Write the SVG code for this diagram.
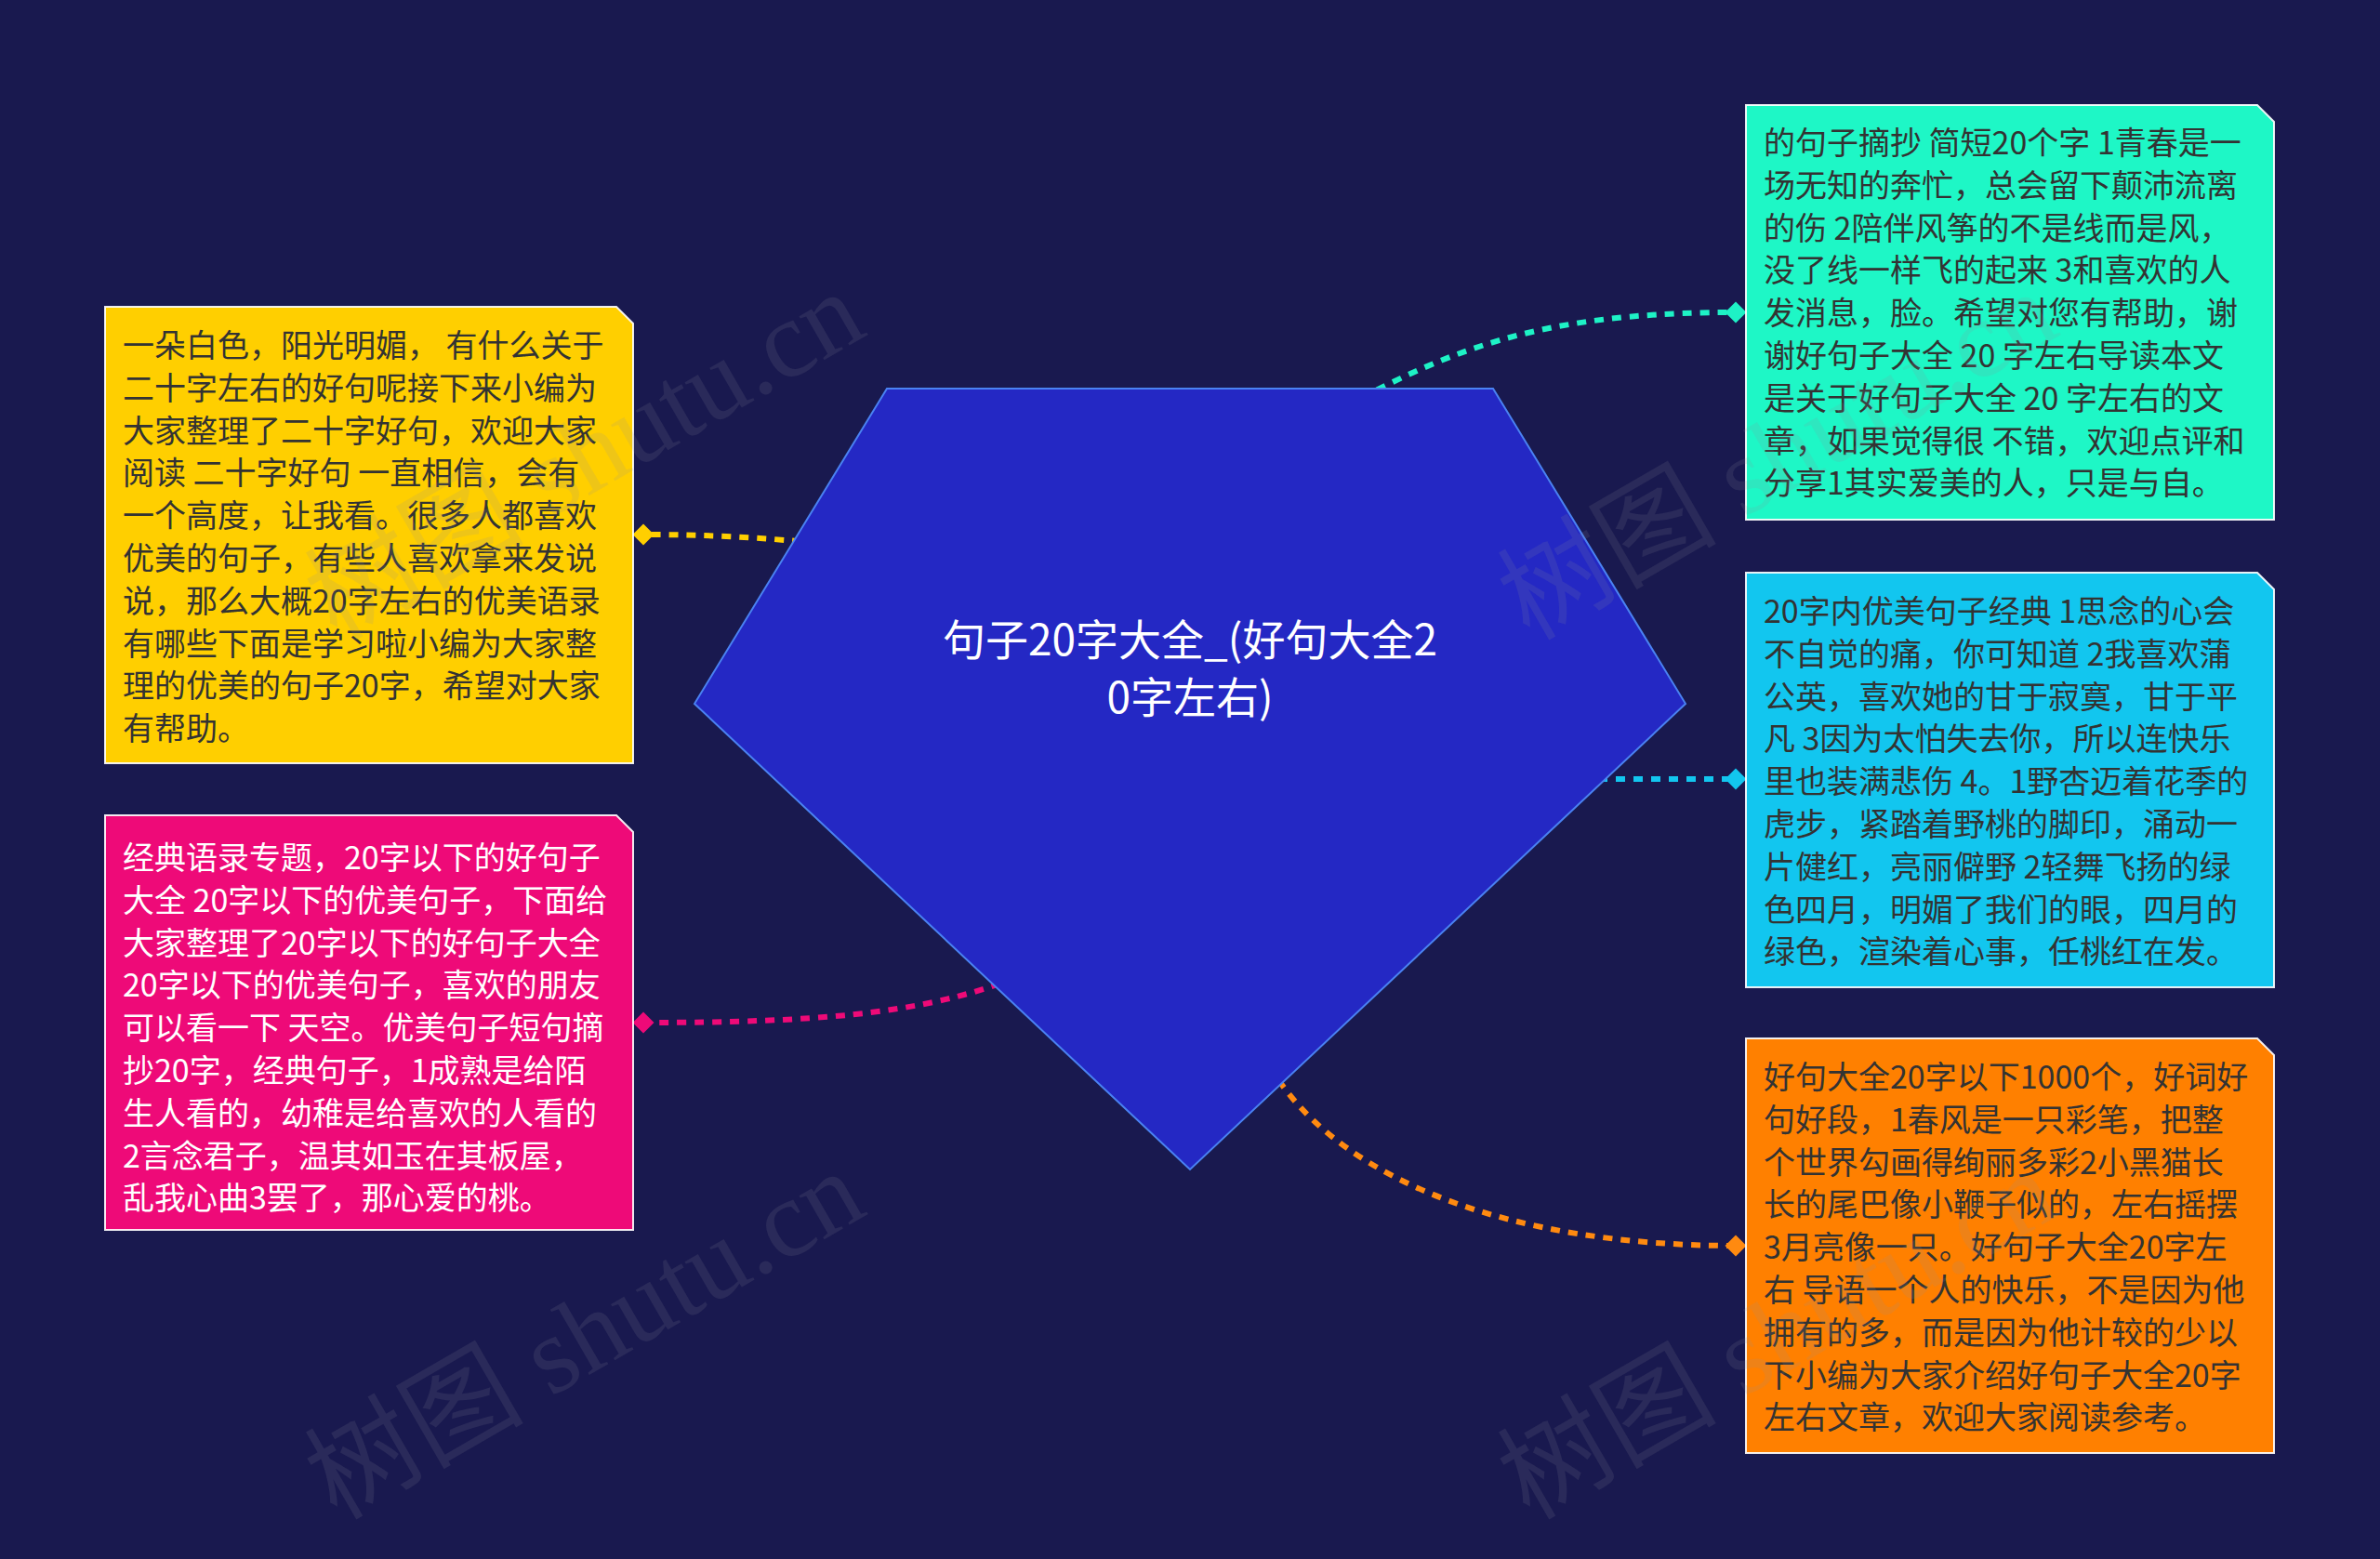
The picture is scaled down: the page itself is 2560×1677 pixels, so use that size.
<svg xmlns="http://www.w3.org/2000/svg" width="2560" height="1677" viewBox="0 0 2560 1677">
<defs>
<style>
.bg{fill:#19194f}
.box{stroke:#ffffff;stroke-width:2;stroke-opacity:0.9}
.t{font-family:"Noto Sans CJK SC","Noto Sans",sans-serif;font-size:34px}
.dark{fill:#333333}
.light{fill:#ffffff}
.conn{fill:none;stroke-width:6;stroke-dasharray:10 9}
.wm{font-family:"Liberation Serif","Noto Sans CJK SC",serif;font-size:118px;fill:#8a8a9a;fill-opacity:0.15}
</style>
</defs>
<rect class="bg" x="0" y="0" width="2560" height="1677"/>

<g id="connectors">
<path class="conn" stroke="#ffcf00" d="M 900 586 C 820 578, 760 575, 692 575"/>
<path class="conn" stroke="#ee0a78" d="M 1130 1040 L 1070 1060 C 980 1090, 880 1100, 692 1100"/>
<path class="conn" stroke="#1ef2c6" d="M 1430 445 L 1490 415 C 1600 360, 1700 336, 1868 336"/>
<path class="conn" stroke="#12c6ef" d="M 1700 838 L 1868 838"/>
<path class="conn" stroke="#ff8a10" d="M 1340 1117 L 1379 1167 C 1452 1268, 1620 1340, 1868 1340"/>
<path fill="#ffcf00" d="M 692 563.5 L 703.5 575 L 692 586.5 L 680.5 575 Z"/>
<path fill="#ee0a78" d="M 692 1088.5 L 703.5 1100 L 692 1111.5 L 680.5 1100 Z"/>
<path fill="#1ef2c6" d="M 1867 324.5 L 1878.5 336 L 1867 347.5 L 1855.5 336 Z"/>
<path fill="#12c6ef" d="M 1867 826.5 L 1878.5 838 L 1867 849.5 L 1855.5 838 Z"/>
<path fill="#ff8a10" d="M 1867 1328.5 L 1878.5 1340 L 1867 1351.5 L 1855.5 1340 Z"/>
</g>

<g id="center">
<polygon points="954,418 1606,418 1813,757 1280,1258 747,757" fill="#2428c4" stroke="#4a82f2" stroke-width="2"/>
<text font-family="'Noto Sans CJK SC','Noto Sans',sans-serif" font-size="46" fill="#ffffff" text-anchor="middle"><tspan x="1280" y="705">句子20字大全_(好句大全2</tspan><tspan x="1280" y="767">0字左右)</tspan></text>
</g>

<g id="node-yellow">
<path class="box" fill="#ffcf00" d="M 113 330 H 663 L 681 348 V 821 H 113 Z"/>
<text class="t dark">
<tspan x="132" y="384">一朵白色，阳光明媚， 有什么关于</tspan>
<tspan x="132" y="429.8">二十字左右的好句呢接下来小编为</tspan>
<tspan x="132" y="475.6">大家整理了二十字好句，欢迎大家</tspan>
<tspan x="132" y="521.4">阅读 二十字好句 一直相信，会有</tspan>
<tspan x="132" y="567.2">一个高度，让我看。很多人都喜欢</tspan>
<tspan x="132" y="613">优美的句子，有些人喜欢拿来发说</tspan>
<tspan x="132" y="658.8">说，那么大概20字左右的优美语录</tspan>
<tspan x="132" y="704.6">有哪些下面是学习啦小编为大家整</tspan>
<tspan x="132" y="750.4">理的优美的句子20字，希望对大家</tspan>
<tspan x="132" y="796.2">有帮助。</tspan>
</text>
</g>

<g id="node-pink">
<path class="box" fill="#ee0a78" d="M 113 877 H 663 L 681 895 V 1323 H 113 Z"/>
<text class="t light">
<tspan x="132" y="935">经典语录专题，20字以下的好句子</tspan>
<tspan x="132" y="980.8">大全 20字以下的优美句子，下面给</tspan>
<tspan x="132" y="1026.6">大家整理了20字以下的好句子大全</tspan>
<tspan x="132" y="1072.4">20字以下的优美句子，喜欢的朋友</tspan>
<tspan x="132" y="1118.2">可以看一下 天空。优美句子短句摘</tspan>
<tspan x="132" y="1164">抄20字，经典句子，1成熟是给陌</tspan>
<tspan x="132" y="1209.8">生人看的，幼稚是给喜欢的人看的</tspan>
<tspan x="132" y="1255.6">2言念君子，温其如玉在其板屋，</tspan>
<tspan x="132" y="1301.4">乱我心曲3罢了，那心爱的桃。</tspan>
</text>
</g>

<g id="node-teal">
<path class="box" fill="#1ef7c6" d="M 1878 113 H 2428 L 2446 131 V 559 H 1878 Z"/>
<text class="t dark">
<tspan x="1897" y="166">的句子摘抄 简短20个字 1青春是一</tspan>
<tspan x="1897" y="211.8">场无知的奔忙，总会留下颠沛流离</tspan>
<tspan x="1897" y="257.6">的伤 2陪伴风筝的不是线而是风，</tspan>
<tspan x="1897" y="303.4">没了线一样飞的起来 3和喜欢的人</tspan>
<tspan x="1897" y="349.2">发消息，脸。希望对您有帮助，谢</tspan>
<tspan x="1897" y="395">谢好句子大全 20 字左右导读本文</tspan>
<tspan x="1897" y="440.8">是关于好句子大全 20 字左右的文</tspan>
<tspan x="1897" y="486.6">章，如果觉得很 不错，欢迎点评和</tspan>
<tspan x="1897" y="532.4">分享1其实爱美的人，只是与自。</tspan>
</text>
</g>

<g id="node-cyan">
<path class="box" fill="#12c6ef" d="M 1878 616 H 2428 L 2446 634 V 1062 H 1878 Z"/>
<text class="t dark">
<tspan x="1897" y="670">20字内优美句子经典 1思念的心会</tspan>
<tspan x="1897" y="715.8">不自觉的痛，你可知道 2我喜欢蒲</tspan>
<tspan x="1897" y="761.6">公英，喜欢她的甘于寂寞，甘于平</tspan>
<tspan x="1897" y="807.4">凡 3因为太怕失去你，所以连快乐</tspan>
<tspan x="1897" y="853.2">里也装满悲伤 4。1野杏迈着花季的</tspan>
<tspan x="1897" y="899">虎步，紧踏着野桃的脚印，涌动一</tspan>
<tspan x="1897" y="944.8">片健红，亮丽僻野 2轻舞飞扬的绿</tspan>
<tspan x="1897" y="990.6">色四月，明媚了我们的眼，四月的</tspan>
<tspan x="1897" y="1036.4">绿色，渲染着心事，任桃红在发。</tspan>
</text>
</g>

<g id="node-orange">
<path class="box" fill="#ff8000" d="M 1878 1117 H 2428 L 2446 1135 V 1563 H 1878 Z"/>
<text class="t dark">
<tspan x="1897" y="1171">好句大全20字以下1000个，好词好</tspan>
<tspan x="1897" y="1216.8">句好段，1春风是一只彩笔，把整</tspan>
<tspan x="1897" y="1262.6">个世界勾画得绚丽多彩2小黑猫长</tspan>
<tspan x="1897" y="1308.4">长的尾巴像小鞭子似的，左右摇摆</tspan>
<tspan x="1897" y="1354.2">3月亮像一只。好句子大全20字左</tspan>
<tspan x="1897" y="1400">右 导语一个人的快乐，不是因为他</tspan>
<tspan x="1897" y="1445.8">拥有的多，而是因为他计较的少以</tspan>
<tspan x="1897" y="1491.6">下小编为大家介绍好句子大全20字</tspan>
<tspan x="1897" y="1537.4">左右文章，欢迎大家阅读参考。</tspan>
</text>
</g>

<g id="watermarks">
<text class="wm" transform="translate(362,690) rotate(-30)">树图 shutu.cn</text>
<text class="wm" transform="translate(362,1636) rotate(-30)">树图 shutu.cn</text>
<text class="wm" transform="translate(1645,690) rotate(-30)">树图 shutu.cn</text>
<text class="wm" transform="translate(1645,1636) rotate(-30)">树图 shutu.cn</text>
</g>
</svg>
